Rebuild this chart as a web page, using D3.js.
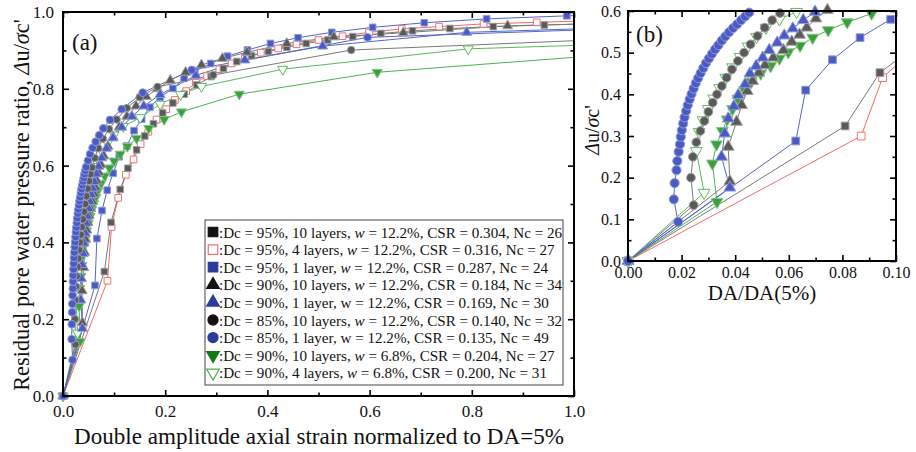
<!DOCTYPE html>
<html><head><meta charset="utf-8">
<script src="https://cdn.jsdelivr.net/npm/d3@7"></script>
<style>
body{margin:0;background:#fff}
text{font-family:"Liberation Serif","Times New Roman",serif;fill:#111}
</style>
</head><body>
<svg id="c" width="916" height="452"></svg>
<script>
// ---------------- data (x = DA/DA(5%), y = Δu/σc') ----------------
const dc95L10 = [[0,0],[0.081,0.324],[0.094,0.452],[0.112,0.538],[0.127,0.593],[0.144,0.641],[0.160,0.677],[0.177,0.709],[0.195,0.737],[0.215,0.763],[0.237,0.786],[0.262,0.810],[0.290,0.832],[0.314,0.853],[0.340,0.871],[0.369,0.886],[0.402,0.897],[0.438,0.908],[0.476,0.918],[0.518,0.927],[0.567,0.936],[0.622,0.944],[0.684,0.951],[0.757,0.957],[0.842,0.962],[0.942,0.966],[1.05,0.970]];
const dc95L4 = [[0,0],[0.087,0.300],[0.095,0.440],[0.108,0.516],[0.123,0.576],[0.138,0.616],[0.152,0.656],[0.167,0.688],[0.183,0.720],[0.202,0.747],[0.219,0.771],[0.241,0.794],[0.260,0.816],[0.282,0.833],[0.306,0.851],[0.330,0.866],[0.356,0.881],[0.387,0.894],[0.421,0.905],[0.457,0.916],[0.500,0.927],[0.547,0.937],[0.599,0.947],[0.663,0.956],[0.736,0.962],[0.823,0.969],[0.927,0.973],[1.05,0.978]];
const dc95L1 = [[0,0],[0.0626,0.288],[0.0663,0.410],[0.0763,0.483],[0.0866,0.536],[0.098,0.580],[0.110,0.623],[0.125,0.651],[0.139,0.691],[0.154,0.721],[0.170,0.752],[0.190,0.778],[0.215,0.801],[0.237,0.827],[0.258,0.846],[0.289,0.866],[0.322,0.885],[0.361,0.901],[0.406,0.918],[0.460,0.933],[0.526,0.947],[0.606,0.960],[0.707,0.972],[0.829,0.982],[0.986,0.990],[1.05,0.993]];
const dc90L10 = [[0,0],[0.038,0.191],[0.0374,0.274],[0.0405,0.334],[0.0424,0.374],[0.0445,0.408],[0.0465,0.432],[0.0488,0.452],[0.0511,0.470],[0.0542,0.488],[0.058,0.506],[0.0611,0.526],[0.064,0.543],[0.0667,0.560],[0.0701,0.582],[0.0744,0.602],[0.080,0.625],[0.088,0.650],[0.098,0.675],[0.110,0.700],[0.125,0.728],[0.143,0.755],[0.163,0.780],[0.185,0.800],[0.210,0.822],[0.240,0.843],[0.271,0.862],[0.312,0.879],[0.360,0.895],[0.438,0.918],[0.530,0.935],[0.666,0.946],[0.870,0.964],[1.05,0.970]];
const dc90L1 = [[0,0],[0.038,0.176],[0.0349,0.250],[0.0361,0.306],[0.0374,0.342],[0.0395,0.371],[0.0411,0.398],[0.0437,0.424],[0.0455,0.450],[0.0478,0.468],[0.0503,0.488],[0.0527,0.506],[0.0557,0.524],[0.0583,0.541],[0.0615,0.558],[0.0654,0.578],[0.0698,0.598],[0.076,0.620],[0.085,0.645],[0.098,0.672],[0.115,0.700],[0.135,0.728],[0.158,0.755],[0.190,0.785],[0.260,0.835],[0.356,0.875],[0.508,0.911],[0.790,0.947],[1.05,0.958]];
const dc85L10 = [[0,0],[0.0245,0.134],[0.0235,0.200],[0.0242,0.250],[0.0255,0.285],[0.027,0.312],[0.0285,0.336],[0.030,0.358],[0.0316,0.380],[0.0332,0.400],[0.035,0.420],[0.0368,0.440],[0.0388,0.460],[0.041,0.480],[0.0433,0.500],[0.0457,0.520],[0.0483,0.540],[0.051,0.560],[0.0538,0.578],[0.0567,0.595],[0.062,0.620],[0.069,0.645],[0.078,0.670],[0.090,0.695],[0.105,0.720],[0.125,0.750],[0.150,0.778],[0.185,0.805],[0.294,0.836],[0.564,0.901],[1.05,0.928]];
const dc85L1 = [[0,0],[0.0187,0.094],[0.0171,0.148],[0.0174,0.187],[0.0181,0.218],[0.0184,0.240],[0.0189,0.262],[0.0194,0.280],[0.0197,0.298],[0.0201,0.314],[0.0206,0.330],[0.0211,0.345],[0.0217,0.360],[0.0223,0.374],[0.0230,0.388],[0.0237,0.401],[0.0245,0.414],[0.0253,0.427],[0.0262,0.439],[0.0271,0.451],[0.0281,0.463],[0.0291,0.475],[0.0302,0.486],[0.0313,0.497],[0.0325,0.508],[0.0337,0.518],[0.0350,0.529],[0.0363,0.539],[0.0377,0.549],[0.0392,0.559],[0.0407,0.568],[0.0422,0.578],[0.0437,0.587],[0.0452,0.596],[0.049,0.613],[0.053,0.630],[0.058,0.646],[0.064,0.662],[0.071,0.679],[0.079,0.697],[0.092,0.719],[0.115,0.747],[0.156,0.790],[0.252,0.849],[0.596,0.934],[1.05,0.955]];
const dc90L10w68 = [[0,0],[0.0332,0.142],[0.0315,0.234],[0.033,0.280],[0.0352,0.312],[0.037,0.340],[0.039,0.365],[0.041,0.390],[0.0435,0.410],[0.046,0.430],[0.0495,0.450],[0.0532,0.468],[0.0565,0.486],[0.0598,0.501],[0.0642,0.517],[0.0689,0.536],[0.0747,0.554],[0.0818,0.573],[0.0909,0.594],[0.100,0.612],[0.112,0.630],[0.126,0.650],[0.144,0.671],[0.168,0.697],[0.198,0.720],[0.232,0.740],[0.345,0.786],[0.615,0.843],[1.05,0.887]];
const dc90L4w68 = [[0,0],[0.0284,0.164],[0.0255,0.264],[0.0265,0.310],[0.028,0.338],[0.030,0.365],[0.032,0.390],[0.0342,0.415],[0.0365,0.440],[0.039,0.465],[0.0418,0.490],[0.0448,0.515],[0.048,0.538],[0.0515,0.560],[0.0565,0.580],[0.0629,0.598],[0.069,0.615],[0.077,0.635],[0.087,0.658],[0.100,0.680],[0.118,0.702],[0.151,0.725],[0.190,0.760],[0.230,0.785],[0.271,0.806],[0.430,0.851],[0.793,0.904],[1.05,0.915]];

const legendLabels = [
  ["Dc = 95%, 10 layers, ", "w", " = 12.2%, CSR = 0.304, Nc = 26", true],
  ["Dc = 95%, 4 layers, ", "w", " = 12.2%, CSR = 0.316, Nc = 27", true],
  ["Dc = 95%, 1 layer, ", "w", " = 12.2%, CSR = 0.287, Nc = 24", true],
  ["Dc = 90%, 10 layers, ", "w", " = 12.2%, CSR = 0.184, Nc = 34", true],
  ["Dc = 90%, 1 layer, ", "w", " = 12.2%, CSR = 0.169, Nc = 30", false],
  ["Dc = 85%, 10 layers, ", "w", " = 12.2%, CSR = 0.140, Nc = 32", true],
  ["Dc = 85%, 1 layer, ", "w", " = 12.2%, CSR = 0.135, Nc = 49", false],
  ["Dc = 90%, 10 layers, ", "w", " = 6.8%, CSR = 0.204, Nc = 27", true],
  ["Dc = 90%, 4 layers, ", "w", " = 6.8%, CSR = 0.200, Nc = 31", true]
];
const xTicksA = [0,0.2,0.4,0.6,0.8,1.0], xMinorA = [0.1,0.3,0.5,0.7,0.9];
const yTicksA = [0,0.2,0.4,0.6,0.8,1.0], yMinorA = [0.1,0.3,0.5,0.7,0.9];
const xTicksB = [0,0.02,0.04,0.06,0.08,0.10], xMinorB = [0.01,0.03,0.05,0.07,0.09];
const yTicksB = [0,0.1,0.2,0.3,0.4,0.5,0.6], yMinorB = [0.05,0.15,0.25,0.35,0.45,0.55];

// ---------------- styles ----------------
const GRAY = {fill:"#5a5a5a", stroke:"#a0a0a0", line:"#7a7a7a", leg:"#111", legStroke:"#111"};
const BLUE = {fill:"#4b5bc2", stroke:"#8f9bdc", line:"#5666c8", leg:"#2c3c9c", legStroke:"#2c3c9c"};
const RED  = {fill:"#ffffff", stroke:"#f07272", line:"#f26a6a", leg:"#fff", legStroke:"#f07272"};
const GRN  = {fill:"#3d9e3d", stroke:"#7fc77f", line:"#4fae4f", leg:"#137a13", legStroke:"#137a13"};
const GRNO = {fill:"#ffffff", stroke:"#5cbc5c", line:"#5cb85c", leg:"#fff", legStroke:"#4bb04b"};

const series = [
  {data:dc95L4, shape:d3.symbolSquare, c:RED, k:1},
  {data:dc95L10, shape:d3.symbolSquare, c:GRAY, k:1},
  {data:dc95L1, shape:d3.symbolSquare, c:BLUE, k:1},
  {data:dc90L10w68, shape:d3.symbolTriangle, c:GRN, k:1, down:true},
  {data:dc90L4w68, shape:d3.symbolTriangle, c:GRNO, k:1, down:true},
  {data:dc90L10, shape:d3.symbolTriangle, c:GRAY, k:1},
  {data:dc90L1, shape:d3.symbolTriangle, c:BLUE, k:1},
  {data:dc85L10, shape:d3.symbolCircle, c:GRAY, k:1},
  {data:dc85L1, shape:d3.symbolCircle, c:BLUE, k:1.1}
];
const legendStyles = [
  {shape:d3.symbolSquare, c:GRAY},{shape:d3.symbolSquare, c:RED},{shape:d3.symbolSquare, c:BLUE},
  {shape:d3.symbolTriangle, c:GRAY},{shape:d3.symbolTriangle, c:BLUE},{shape:d3.symbolCircle, c:GRAY},
  {shape:d3.symbolCircle, c:BLUE},{shape:d3.symbolTriangle, c:GRN, down:true},{shape:d3.symbolTriangle, c:GRNO, down:true}
];

const svg = d3.select("#c");

function panel(cfg){
  const {xs, ys, xMaj, xMin, yMaj, yMin, fx, fy, msize, id, padX, padY, fs} = cfg;
  const [X0,X1] = xs.range(), [Y0,Y1] = ys.range();
  const xMax = xs.domain()[1], yMax = ys.domain()[1];
  svg.append("clipPath").attr("id",id).append("rect")
    .attr("x",X0).attr("y",Y1).attr("width",X1-X0).attr("height",Y0-Y1);
  const g = svg.append("g");
  const line = d3.line().x(d=>xs(d[0])).y(d=>ys(d[1]));
  series.forEach(s=>{
    g.append("path").datum(s.data).attr("clip-path",`url(#${id})`)
      .attr("fill","none").attr("stroke",s.c.line).attr("stroke-width",1).attr("d",line);
  });
  series.forEach(s=>{
    g.append("g").selectAll("path")
      .data(s.data.filter(d=>d[0]<=xMax*1.001 && d[1]<=yMax*1.005))
      .join("path")
      .attr("transform",d=>`translate(${xs(d[0])},${ys(d[1])})${s.down?" rotate(180)":""}`)
      .attr("d",d3.symbol(s.shape, msize*s.k)())
      .attr("fill",s.c.fill).attr("stroke",s.c.stroke).attr("stroke-width",1);
  });
  const ax = (gen, scale, vals, size, tr, labels, fmt, pad) => {
    const a = svg.append("g").attr("transform",tr)
      .call(gen(scale).tickValues(vals).tickSize(size).tickPadding(pad||3)
        .tickFormat(labels ? fmt : ()=>""));
    a.select(".domain").remove();
    a.selectAll(".tick line").attr("stroke","#000").attr("stroke-width",1.6);
    a.selectAll("text").attr("font-size",fs).attr("font-family","Liberation Serif").attr("fill","#111");
    return a;
  };
  ax(d3.axisBottom, xs, xMaj, -6, `translate(0,${Y0})`, true, fx, padX);
  ax(d3.axisBottom, xs, xMin, -3.5, `translate(0,${Y0})`, false);
  ax(d3.axisTop, xs, xMaj, -6, `translate(0,${Y1})`, false);
  ax(d3.axisTop, xs, xMin, -3.5, `translate(0,${Y1})`, false);
  ax(d3.axisLeft, ys, yMaj, -6, `translate(${X0},0)`, true, fy, padY);
  ax(d3.axisLeft, ys, yMin, -3.5, `translate(${X0},0)`, false);
  ax(d3.axisRight, ys, yMaj, -6, `translate(${X1},0)`, false);
  ax(d3.axisRight, ys, yMin, -3.5, `translate(${X1},0)`, false);
  svg.append("rect").attr("x",X0).attr("y",Y1).attr("width",X1-X0).attr("height",Y0-Y1)
    .attr("fill","none").attr("stroke","#000").attr("stroke-width",2);
}

const xa = d3.scaleLinear([0,1],[63,574]), ya = d3.scaleLinear([0,1],[396,12]);
const xb = d3.scaleLinear([0,0.1],[628,896]), yb = d3.scaleLinear([0,0.6],[261,11]);

panel({xs:xa, ys:ya, xMaj:xTicksA, xMin:xMinorA, yMaj:yTicksA, yMin:yMinorA,
  fx:d3.format(".1f"), fy:d3.format(".1f"), msize:44, id:"clipA", padX:9, padY:9, fs:17});
panel({xs:xb, ys:yb, xMaj:xTicksB, xMin:xMinorB, yMaj:yTicksB, yMin:yMinorB,
  fx:d3.format(".2f"), fy:d3.format(".1f"), msize:60, id:"clipB", padX:6, padY:7, fs:16});

// panel labels
svg.append("text").attr("x",72).attr("y",50).attr("font-size",23).text("(a)");
svg.append("text").attr("x",636).attr("y",42).attr("font-size",23).text("(b)");

// legend
const lg = svg.append("g");
lg.append("rect").attr("x",205).attr("y",220).attr("width",358).attr("height",165)
  .attr("fill","#fff").attr("stroke","#444").attr("stroke-width",1);
legendLabels.forEach((L,i)=>{
  const cy = 232 + i*17.6, st = legendStyles[i];
  lg.append("path").attr("transform",`translate(213,${cy})${st.down?" rotate(180)":""}`)
    .attr("d",d3.symbol(st.shape, st.shape===d3.symbolCircle?80:st.shape===d3.symbolSquare?90:70)())
    .attr("fill",st.c.leg).attr("stroke",st.c.legStroke).attr("stroke-width",1.2);
  const t = lg.append("text").attr("x",219).attr("y",cy+5.5).attr("font-size",15.1);
  t.append("tspan").text(":"+L[0]);
  t.append("tspan").attr("font-style",L[3]?"italic":"normal").text(L[1]);
  t.append("tspan").text(L[2]);
});

function fit(sel, target, base){
  const w = sel.node().getComputedTextLength();
  sel.attr("font-size", base*target/w);
}

// axis titles
const yt = svg.append("text").attr("transform","translate(29,205) rotate(-90)")
  .attr("text-anchor","middle").attr("font-size",20);
yt.append("tspan").text("Residual pore water pressure ratio, ");
yt.append("tspan").attr("font-style","italic").text("Δ");
yt.append("tspan").text("u/");
yt.append("tspan").attr("font-style","italic").text("σ");
yt.append("tspan").text("c'");
fit(yt, 372, 20);

const xt = svg.append("text").attr("x",319).attr("y",444).attr("text-anchor","middle")
  .attr("font-size",21).text("Double amplitude axial strain normalized to DA=5%");
fit(xt, 490, 21);

svg.append("text").attr("x",762).attr("y",300).attr("text-anchor","middle")
  .attr("font-size",21).text("DA/DA(5%)");
const yt2 = svg.append("text").attr("transform","translate(599,130) rotate(-90)")
  .attr("text-anchor","middle").attr("font-size",20);
yt2.append("tspan").attr("font-style","italic").text("Δ");
yt2.append("tspan").text("u/");
yt2.append("tspan").attr("font-style","italic").text("σ");
yt2.append("tspan").text("c'");
</script>
</body></html>
